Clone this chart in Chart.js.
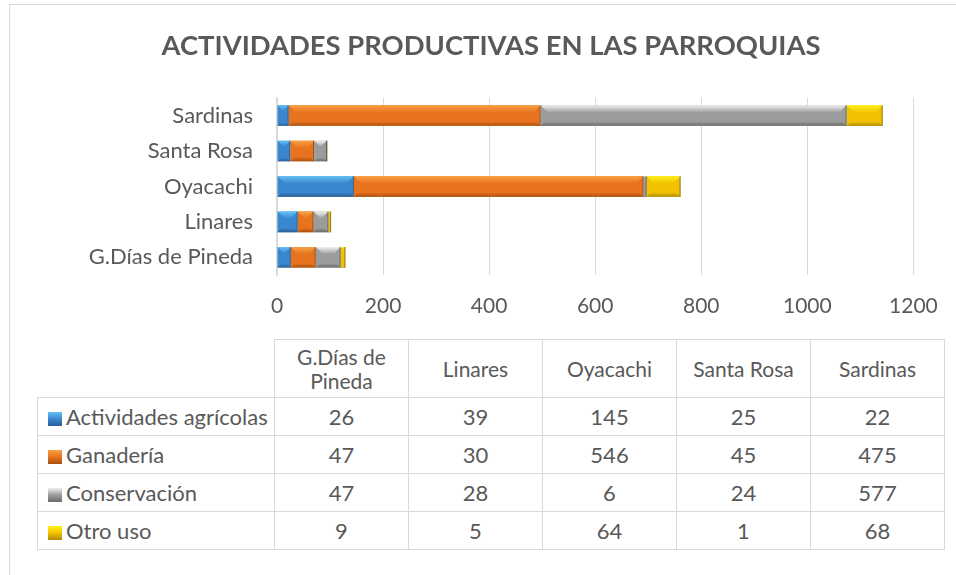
<!DOCTYPE html>
<html>
<head>
<meta charset="utf-8">
<script src="https://cdn.jsdelivr.net/npm/chart.js@4"></script>
<style>
  html, body { margin: 0; padding: 0; background: #fff; }
  body { width: 956px; height: 575px; position: relative; overflow: hidden; font-family: Lato, sans-serif; color: #595959; }
  #frame { position: absolute; left: 9px; top: 4px; width: 1000px; height: 700px; border-left: 1px solid #d9d9d9; border-top: 1px solid #d9d9d9; }
  #wrap { position: absolute; left: 0; top: 0; width: 982px; height: 330px; }
  #tabla { position: absolute; left: 37px; top: 339px; border-collapse: collapse; font-size: 22px; color: #595959; }
  #tabla td { border: 1.5px solid #d9d9d9; text-align: center; padding: 0; height: 37px; width: 133px; }
  #tabla td.serie { text-align: left; width: 226px; padding-left: 10px; white-space: nowrap; }
  #tabla tr.head td { height: 57px; line-height: 24px; font-size: 21px; }
  #tabla td.vacio { border-top: none; border-left: none; }
  .key { display: inline-block; width: 14px; height: 14px; margin-right: 4px; vertical-align: -1px; }
</style>
</head>
<body>
<div id="frame"></div>
<div id="wrap"><canvas id="c"></canvas></div>
<table id="tabla"></table>
<script>
var parroquias = ['G.Días de Pineda', 'Linares', 'Oyacachi', 'Santa Rosa', 'Sardinas'];
var encabezados = [['G.Días de', 'Pineda'], ['Linares'], ['Oyacachi'], ['Santa Rosa'], ['Sardinas']];
var series = ['Actividades agrícolas', 'Ganadería', 'Conservación', 'Otro uso'];
var agricolas = [26, 39, 145, 25, 22];
var ganaderia = [47, 30, 546, 45, 475];
var conservacion = [47, 28, 6, 24, 577];
var otroUso = [9, 5, 64, 1, 68];
var xTicks = [0, 200, 400, 600, 800, 1000, 1200];

var colores = ['#3a87cf', '#e8731e', '#9c9c9c', '#f2c200'];
var claros = ['#62c1f5', '#f8a144', '#f0f0f0', '#fff21a'];
var oscuros = ['#2a5f93', '#a8500f', '#6a6a6a', '#b08a00'];
var valores = [agricolas, ganaderia, conservacion, otroUso];

// fake excel bevel on every bar segment
var bevel = {
    id: 'bevel',
    afterDatasetsDraw: function (chart) {
        var ctx = chart.ctx;
        chart.data.datasets.forEach(function (ds, i) {
            var meta = chart.getDatasetMeta(i);
            meta.data.forEach(function (bar) {
                var p = bar.getProps(['x', 'y', 'base', 'height'], true);
                var l = Math.min(p.x, p.base), r = Math.max(p.x, p.base);
                var t = p.y - p.height / 2, b = p.y + p.height / 2;
                var w = r - l;
                if (w < 0.5) return;
                var e = Math.min(w / 2, p.height * 0.35);
                ctx.save();
                var g = ctx.createLinearGradient(0, t, 0, t + e);
                g.addColorStop(0, claros[i]);
                g.addColorStop(1, colores[i]);
                ctx.fillStyle = g;
                ctx.beginPath();
                ctx.moveTo(l, t); ctx.lineTo(r, t); ctx.lineTo(r - e, t + e); ctx.lineTo(l + e, t + e);
                ctx.closePath(); ctx.fill();
                g = ctx.createLinearGradient(0, b - e * 0.6, 0, b);
                g.addColorStop(0, colores[i]);
                g.addColorStop(1, oscuros[i]);
                ctx.fillStyle = g;
                ctx.beginPath();
                ctx.moveTo(l, b); ctx.lineTo(r, b); ctx.lineTo(r - e * 0.6, b - e * 0.6); ctx.lineTo(l + e * 0.6, b - e * 0.6);
                ctx.closePath(); ctx.fill();
                ctx.strokeStyle = 'rgba(60,60,60,0.55)';
                ctx.lineWidth = 1;
                ctx.beginPath(); ctx.moveTo(r - 0.5, t); ctx.lineTo(r - 0.5, b); ctx.stroke();
                ctx.restore();
            });
        });
    }
};

var datasets = series.map(function (s, i) {
    return {
        label: s,
        data: valores[i],
        backgroundColor: colores[i],
        borderWidth: 0,
        barPercentage: 0.58,
        categoryPercentage: 1
    };
});

new Chart(document.getElementById('c'), {
    type: 'bar',
    data: { labels: parroquias, datasets: datasets },
    plugins: [bevel],
    options: {
        indexAxis: 'y',
        responsive: true,
        maintainAspectRatio: false,
        animation: false,
        layout: { padding: { left: 68.6, right: 68.6, top: 0, bottom: 0 } },
        plugins: {
            legend: { display: false },
            tooltip: { enabled: false },
            title: {
                display: true,
                text: 'ACTIVIDADES PRODUCTIVAS EN LAS PARROQUIAS',
                color: '#595959',
                font: { family: 'Lato', size: 27.4, weight: 'bold', lineHeight: 1.2 },
                padding: { top: 30, bottom: 35 }
            }
        },
        scales: {
            x: {
                stacked: true,
                min: 0, max: 1200,
                afterBuildTicks: function (s) { s.ticks = xTicks.map(function (v) { return { value: v }; }); },
                afterFit: function (s) { s.height = 55; },
                grid: { color: '#d9d9d9', drawTicks: false },
                border: { display: false },
                ticks: {
                    color: '#595959', font: { family: 'Lato', size: 21 }, padding: 19,
                    callback: function (v) { return String(v); }
                }
            },
            y: {
                stacked: true,
                reverse: true,
                afterFit: function (s) { s.width = 277 - 68.6; },
                grid: { display: false, drawTicks: false },
                border: { display: true, color: '#d9d9d9', width: 1.5 },
                ticks: { color: '#595959', font: { family: 'Lato', size: 22 }, padding: 24 }
            }
        }
    }
});

// data table under the chart
var tabla = document.getElementById('tabla');
var h = '<tr class="head"><td class="vacio"></td>';
encabezados.forEach(function (e) { h += '<td>' + e.join('<br>') + '</td>'; });
h += '</tr>';
series.forEach(function (s, i) {
    h += '<tr><td class="serie"><span class="key" style="background:linear-gradient(' + claros[i] + ',' + colores[i] + ' 50%,' + oscuros[i] + ')"></span>' + s + '</td>';
    valores[i].forEach(function (v) { h += '<td>' + v + '</td>'; });
    h += '</tr>';
});
tabla.innerHTML = h;
</script>
</body>
</html>
